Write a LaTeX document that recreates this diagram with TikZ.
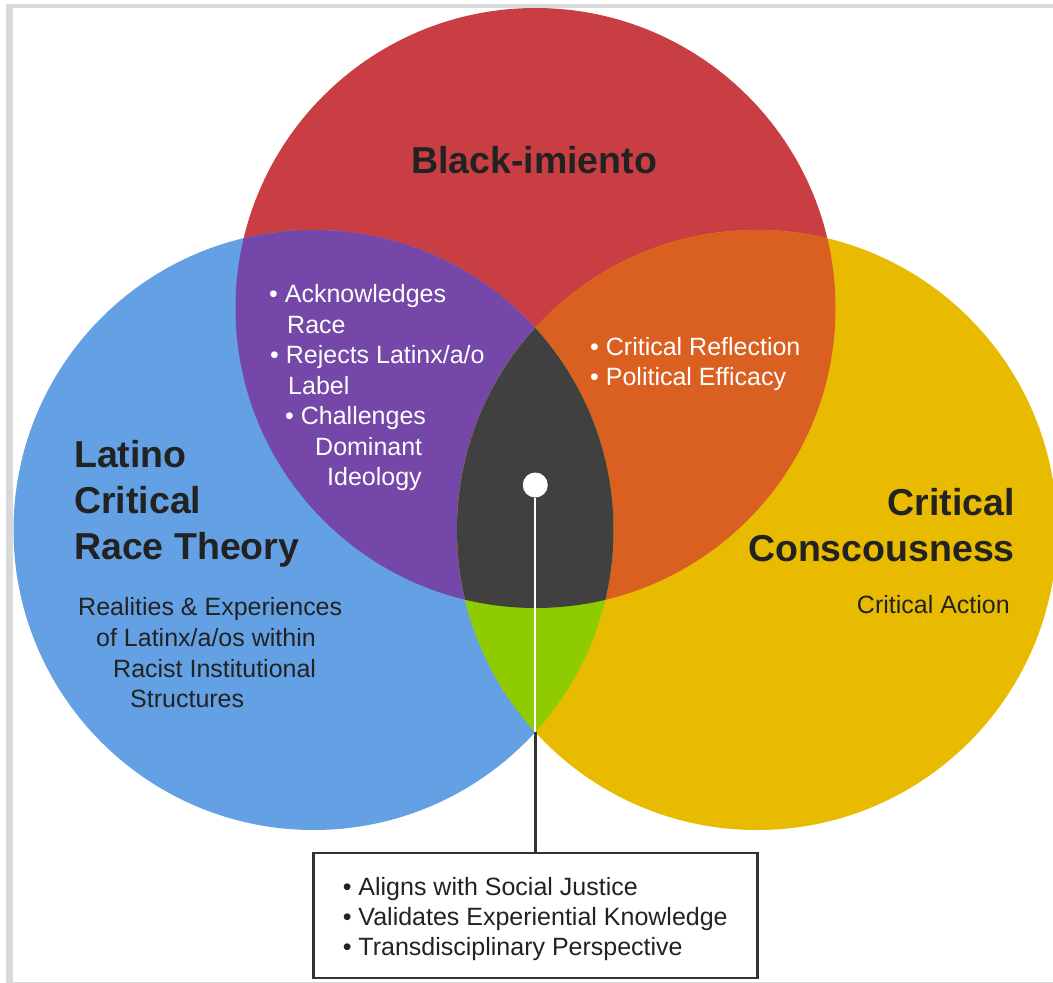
\documentclass[tikz,border=0pt]{standalone}
\usepackage{fontspec}
\setmainfont{Liberation Sans}
\definecolor{framegray}{HTML}{D9D9D9}
\definecolor{redc}{HTML}{C83E43}
\definecolor{bluec}{HTML}{64A1E4}
\definecolor{yellowc}{HTML}{E8BA00}
\definecolor{purplec}{HTML}{7447A8}
\definecolor{orangec}{HTML}{DA6022}
\definecolor{greenc}{HTML}{8ECC00}
\definecolor{darkc}{HTML}{404040}
\definecolor{inkc}{HTML}{222222}
\definecolor{boxgray}{HTML}{333333}
\tikzset{
  title/.style={inner sep=0pt, text=inkc, font=\fontsize{37.5}{46}\selectfont\bfseries},
  body/.style={inner sep=0pt, text=inkc, font=\fontsize{25}{30}\selectfont},
  whitebody/.style={body, text=white},
  listbox/.style={draw=boxgray, line width=2.5pt, fill=white, minimum width=444pt,
    minimum height=125pt, align=left, text=inkc, font=\fontsize{25}{30}\selectfont},
  hubdot/.style={circle, fill=white, minimum size=25pt, inner sep=0pt},
}
\begin{document}
\begin{tikzpicture}[x=1pt,y=-1pt]
\useasboundingbox (0,0) rectangle (1053,983);
% page frame
\fill[framegray] (6,4) rectangle (1070,983);
\fill[white] (13,8) rectangle (1070,981.5);

% circle centres
\coordinate (cR) at (535.5,308);
\coordinate (cB) at (313.5,530);
\coordinate (cY) at (757,530);
\def\rad{300pt}

% the three sets
\fill[redc] (cR) circle[radius=\rad];
\fill[bluec] (cB) circle[radius=\rad];
\fill[yellowc] (cY) circle[radius=\rad];
% pairwise overlaps
\begin{scope}
  \clip (cR) circle[radius=\rad];
  \fill[purplec] (cB) circle[radius=\rad];
  \fill[orangec] (cY) circle[radius=\rad];
\end{scope}
\begin{scope}
  \clip (cB) circle[radius=\rad];
  \fill[greenc] (cY) circle[radius=\rad];
\end{scope}
% centre overlap
\begin{scope}
  \clip (cR) circle[radius=\rad];
  \clip (cB) circle[radius=\rad];
  \fill[darkc] (cY) circle[radius=\rad];
\end{scope}

% titles
\node[title, anchor=base west] (tBlack) at (411,173) {Black-imiento};
\node[title, anchor=base west] (tLat1) at (74,467) {Latino};
\node[title, anchor=base west] (tLat2) at (74,513) {Critical};
\node[title, anchor=base west] (tLat3) at (74,559) {Race Theory};
\node[title, anchor=base east] (tCC1) at (1015,515) {Critical};
\node[title, anchor=base east] (tCC2) at (1015,561) {Conscousness};

% descriptions
\node[body, anchor=base west] (dL1) at (78,615) {Realities \& Experiences};
\node[body, anchor=base west] (dL2) at (96,646) {of Latinx/a/os within};
\node[body, anchor=base west] (dL3) at (113,677) {Racist Institutional};
\node[body, anchor=base west] (dL4) at (130,707) {Structures};
\node[body, anchor=base east] (dR1) at (1010,613) {Critical Action};

% red and blue overlap
\node[whitebody, anchor=base west] (p1) at (269,302) {• Acknowledges};
\node[whitebody, anchor=base west] (p2) at (287,333) {Race};
\node[whitebody, anchor=base west] (p3) at (270,363) {• Rejects Latinx/a/o};
\node[whitebody, anchor=base west] (p4) at (288,394) {Label};
\node[whitebody, anchor=base west] (p5) at (285,424) {• Challenges};
\node[whitebody, anchor=base west] (p6) at (315,455) {Dominant};
\node[whitebody, anchor=base west] (p7) at (327,485) {Ideology};

% red and yellow overlap
\node[whitebody, anchor=base west] (o1) at (590,355) {• Critical Reflection};
\node[whitebody, anchor=base west] (o2) at (590,385) {• Political Efficacy};

% centre marker and call-out
\node[hubdot] (hub) at (535.25,485) {};
\coordinate (low) at (535.25,732);
\node[listbox] (box) at (535.25,915.5) {\rule{0pt}{25pt}• Aligns with Social Justice\\• Validates Experiential Knowledge\\• Transdisciplinary Perspective};
\draw[white, line width=2pt] (hub) -- (low);
\draw[boxgray, line width=2.5pt] (low) -- (box.north);
\end{tikzpicture}
\end{document}
